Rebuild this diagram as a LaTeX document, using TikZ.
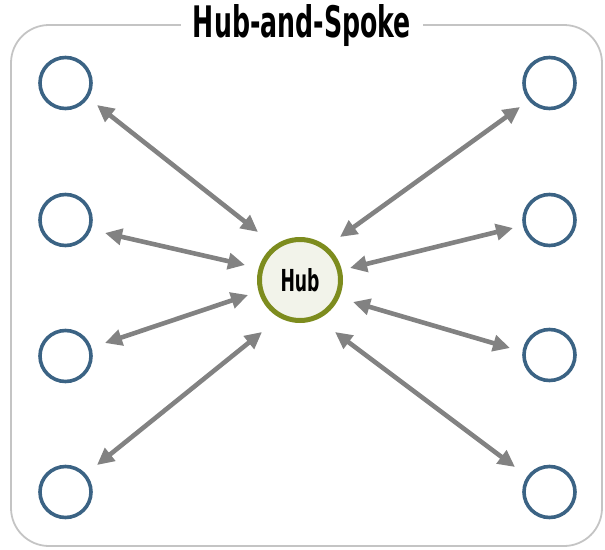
\documentclass[tikz,border=0pt]{standalone}
\usepackage{fontspec}
\setmainfont{DejaVu Sans}
\usetikzlibrary{arrows.meta,calc}
\definecolor{framegray}{HTML}{C4C4C4}
\definecolor{spokeblue}{HTML}{3B6384}
\definecolor{hubolive}{HTML}{7D8C1E}
\definecolor{hubfill}{HTML}{F2F3EA}
\definecolor{arrowgray}{HTML}{828282}
\tikzset{
  leaf/.style={circle,draw=spokeblue,line width=3.6pt,minimum size=51pt,inner sep=0pt},
  hubnode/.style={circle,draw=hubolive,fill=hubfill,line width=5pt,minimum size=81pt,inner sep=0pt},
  spoke/.style={draw=arrowgray,line width=4.6pt,{Triangle[length=17pt,width=16pt]}-{Triangle[length=17pt,width=16pt]}},
  frame/.style={draw=framegray,line width=1.8pt,rounded corners=38pt},
  titlenode/.style={fill=white,inner xsep=12pt,inner ysep=2pt}
}
\begin{document}
\begin{tikzpicture}[x=1pt,y=-1pt]
\useasboundingbox (0,0) rectangle (605,549);
\draw[frame] (11,25) rectangle (602,546);
\node[titlenode] (title) at (302,26) {\resizebox{218pt}{33pt}{\bfseries Hub-and-Spoke}};
\node[hubnode] (hub) at (300,280) {\raisebox{-3pt}{\resizebox{39pt}{23pt}{\bfseries Hub}}};
\node[leaf] (L1) at (65.5,83) {};
\node[leaf] (L2) at (65.5,220) {};
\node[leaf] (L3) at (65.5,356) {};
\node[leaf] (L4) at (65.5,492) {};
\node[leaf] (R1) at (549.5,83) {};
\node[leaf] (R2) at (549.5,220) {};
\node[leaf] (R3) at (549.5,355) {};
\node[leaf] (R4) at (549.5,492) {};
\draw[spoke] ($(L1)+(31.5,22)$) -- ($(hub)+(-42,-48)$);
\draw[spoke] ($(L2)+(39.5,13)$) -- ($(hub)+(-55,-15)$);
\draw[spoke] ($(L3)+(39.5,-13)$) -- ($(hub)+(-52,15)$);
\draw[spoke] ($(L4)+(31.5,-27)$) -- ($(hub)+(-38,52)$);
\draw[spoke] ($(R1)+(-29.5,24)$) -- ($(hub)+(40,-43)$);
\draw[spoke] ($(R2)+(-36.5,8)$) -- ($(hub)+(50,-12)$);
\draw[spoke] ($(R3)+(-39.5,-7)$) -- ($(hub)+(53,22)$);
\draw[spoke] ($(R4)+(-34.5,-25)$) -- ($(hub)+(35,52)$);
\end{tikzpicture}
\end{document}
